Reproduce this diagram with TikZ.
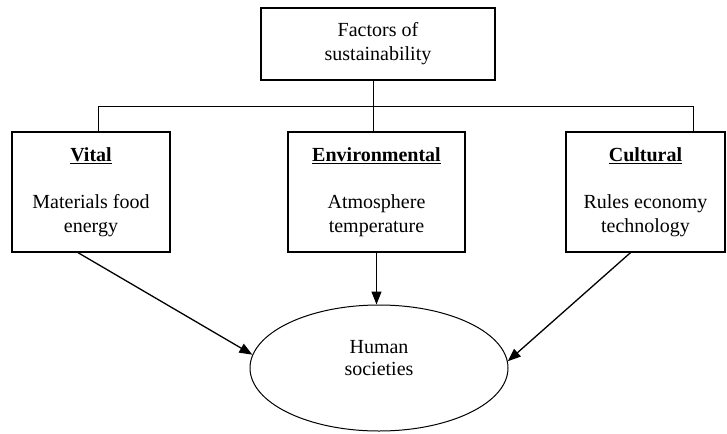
\documentclass[tikz,border=0pt]{standalone}
\usepackage{fontspec}
\setmainfont{Liberation Serif}
\usepackage{tikz}
\usetikzlibrary{positioning, calc, arrows.meta, shapes.geometric}

\tikzset{
	box/.style={draw, line width=1.3pt, align=center, inner sep=0, minimum height=120},
	arr/.style={line width=1.3pt, -{Triangle[length=13pt, width=10pt]}},
}

\begin{document}
\begin{tikzpicture}[x=1pt, y=-1pt, font=\fontsize{20}{24}\selectfont]
\useasboundingbox (0,0) rectangle (727,433);
\node[box, minimum width=234, minimum height=72] (top) at (378, 44) {Factors of\\sustainability};
\foreach \n/\x/\w/\h/\t in {vital/91/158/Vital/{Materials food\\energy}, env/376.5/177/Environmental/{Atmosphere\\temperature}, cult/645.5/159/Cultural/{Rules economy\\technology}} {
	\node[box, minimum width=\w] (\n) at (\x, 192) {\underline{\textbf{\h}}\\[23pt]\t};
}
\node[draw, ellipse, line width=1pt, minimum width=258, minimum height=126] (hum) at (379, 368) {};
\node[align=center, inner sep=0, font=\fontsize{20}{22}\selectfont] (humtxt) at (379, 358) {Human\\societies};
% tree lines
\draw[line width=1pt] ([xshift=-5]top.south) -- ([xshift=-3.5]env.north);
\draw[line width=1pt] ([xshift=7]vital.north) -- ++(0,-25) -| ([xshift=47.5]cult.north);
% arrows
\draw[arr] (env.south) -- (env.south |- hum.north);
\foreach \n/\a/\s in {vital/174/-13, cult/3/-15} {
	\draw[arr] ([xshift=\s]\n.south) -- (hum.\a);
}
\end{tikzpicture}
\end{document}
